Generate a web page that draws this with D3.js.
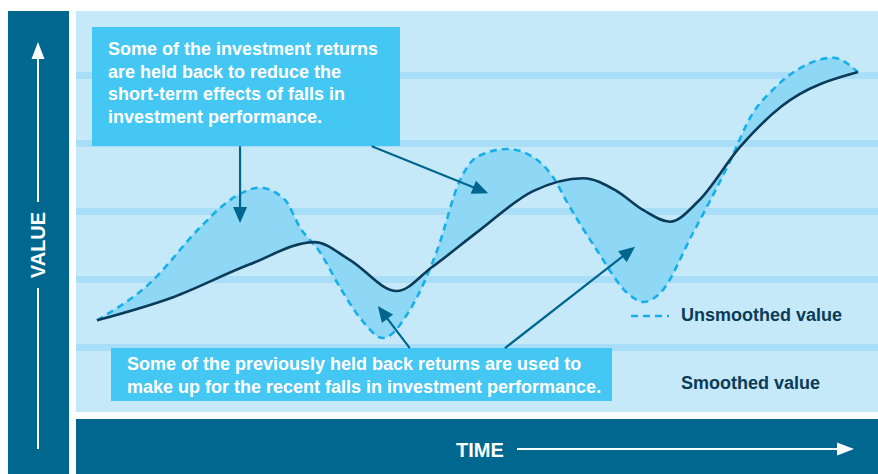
<!DOCTYPE html>
<html>
<head>
<meta charset="utf-8">
<script src="https://cdn.jsdelivr.net/npm/d3@7"></script>
<style>
  body { margin: 0; background: #ffffff; }
  svg { display: block; font-family: 'Liberation Sans', Arial, sans-serif; }
</style>
</head>
<body>
<script>
// data (time 0-100, value in band units)
var smoothTime  = [0, 10, 20, 28.6, 33.2, 39.4, 44, 50, 57.3, 63.9, 68.3, 71.8, 75.3, 79, 84.5, 90, 100];
var smoothValue = [1.40, 1.74, 2.22, 2.55, 2.29, 1.83, 2.18, 2.70, 3.30, 3.49, 3.30, 3.02, 2.85, 3.15, 3.95, 4.55, 5.05];
var rawTime  = [0, 7.0, 13.5, 17.5, 21.4, 24.7, 26.7, 29.3, 31.9, 34.6, 37.6, 41.1, 44.7, 47.7, 49.9, 53.9, 57.3, 59.9, 61.8, 65.7, 69.7, 71.8, 74.0, 78.3, 82.8, 86.2, 88.8, 92.4, 96.7, 100];
var rawValue = [1.40, 1.95, 2.76, 3.17, 3.35, 3.17, 2.76, 2.40, 1.89, 1.43, 1.14, 1.55, 2.43, 3.46, 3.80, 3.92, 3.80, 3.51, 3.13, 2.43, 1.80, 1.67, 1.80, 2.68, 3.65, 4.45, 4.79, 5.11, 5.26, 5.05];
var bandValues = [1, 2, 3, 4, 5];

var topNote = ['Some of the investment returns', 'are held back to reduce the', 'short-term effects of falls in', 'investment performance.'];
var bottomNote = ['Some of the previously held back returns are used to', 'make up for the recent falls in investment performance.'];
var legendLabels = ['Unsmoothed value', 'Smoothed value'];
// arrows: [fromTime, fromValue, toTime, toValue]
var arrows = [
  [18.8, 3.96, 18.8, 2.83],
  [36.1, 3.96, 51.4, 3.27],
  [41.1, 0.99, 36.9, 1.61],
  [53.6, 0.99, 70.7, 2.48]
];

var w = 878, h = 474;
var darkBlue = '#00678f', panel = '#c6e9f9', band = '#a8def7', boxBlue = '#45c7f3',
    fillBlue = '#8ed7f5', navy = '#0a3b58', dashBlue = '#17afea', arrowBlue = '#00668e';

var svg = d3.select('body').append('svg').attr('width', w).attr('height', h);

var x = d3.scaleLinear().domain([0, 100]).range([97, 858]);
var y = d3.scaleLinear().domain([0, 6]).range([415.5, 7.5]);

// frames
svg.append('rect').attr('x', 8).attr('y', 11).attr('width', 61).attr('height', h - 11).attr('fill', darkBlue);
svg.append('rect').attr('x', 76).attr('y', 11).attr('width', w - 76).attr('height', 401).attr('fill', panel);
svg.append('rect').attr('x', 76).attr('y', 419).attr('width', w - 76).attr('height', h - 419).attr('fill', darkBlue);

// bands
svg.selectAll('.band').data(bandValues).enter().append('rect')
  .attr('class', 'band')
  .attr('x', 76).attr('width', w - 76)
  .attr('y', function(d) { return y(d) - 3.5; })
  .attr('height', 7)
  .attr('fill', band);

// curves
var smooth = smoothTime.map(function(t, i) { return [t, smoothValue[i]]; });
var raw = rawTime.map(function(t, i) { return [t, rawValue[i]]; });
var line = d3.line()
  .x(function(d) { return x(d[0]); })
  .y(function(d) { return y(d[1]); })
  .curve(d3.curveMonotoneX);

var fillPath = line(raw) + 'L' + line(smooth.slice().reverse()).slice(1) + 'Z';
svg.append('path').attr('d', fillPath).attr('fill', fillBlue);
svg.append('path').attr('d', line(raw)).attr('fill', 'none')
  .attr('stroke', dashBlue).attr('stroke-width', 2.6).attr('stroke-dasharray', '7,5');
svg.append('path').attr('d', line(smooth)).attr('fill', 'none')
  .attr('stroke', navy).attr('stroke-width', 2.6);

// boxes
function noteBox(x0, y0, bw, bh, lines, tx, ty, lh, fs) {
  svg.append('rect').attr('x', x0).attr('y', y0).attr('width', bw).attr('height', bh).attr('fill', boxBlue);
  var t = svg.append('text').attr('fill', '#ffffff').attr('font-weight', 'bold').attr('font-size', fs);
  lines.forEach(function(s, i) {
    t.append('tspan').attr('x', tx).attr('y', ty + i * lh).text(s);
  });
}
noteBox(92, 27, 308, 119, topNote, 108, 55, 22.7, 18);
noteBox(111, 348, 501, 53, bottomNote, 127, 370, 23, 18);

// arrow helper
function arrow(x1, y1, x2, y2, color, len, half, sw) {
  var dx = x2 - x1, dy = y2 - y1, d = Math.sqrt(dx * dx + dy * dy);
  var ux = dx / d, uy = dy / d;
  var bx = x2 - ux * len, by = y2 - uy * len;
  svg.append('line').attr('x1', x1).attr('y1', y1).attr('x2', bx + ux * 2).attr('y2', by + uy * 2)
    .attr('stroke', color).attr('stroke-width', sw);
  svg.append('path')
    .attr('d', 'M' + x2 + ',' + y2 + 'L' + (bx - uy * half) + ',' + (by + ux * half) +
               'L' + (bx + uy * half) + ',' + (by - ux * half) + 'Z')
    .attr('fill', color);
}
arrows.forEach(function(a) {
  arrow(x(a[0]), y(a[1]), x(a[2]), y(a[3]), arrowBlue, 16, 7, 2.2);
});

// legend
svg.append('line').attr('x1', 631).attr('x2', 669).attr('y1', 316).attr('y2', 316)
  .attr('stroke', dashBlue).attr('stroke-width', 2.6).attr('stroke-dasharray', '7,5');
svg.selectAll('.leg').data(legendLabels).enter().append('text')
  .attr('class', 'leg')
  .attr('x', 681).attr('y', function(d, i) { return 321 + i * 68; })
  .attr('fill', navy).attr('font-weight', 'bold').attr('font-size', 18)
  .text(function(d) { return d; });

// value axis label
arrow(38, 202, 38, 42, '#ffffff', 17, 6.5, 2);
svg.append('line').attr('x1', 38).attr('x2', 38).attr('y1', 288).attr('y2', 449)
  .attr('stroke', '#ffffff').attr('stroke-width', 2);
svg.append('text').attr('transform', 'translate(45,245) rotate(-90)')
  .attr('text-anchor', 'middle').attr('fill', '#ffffff').attr('font-weight', 'bold')
  .attr('font-size', 20).text('VALUE');

// time axis label
svg.append('text').attr('x', 456).attr('y', 457)
  .attr('fill', '#ffffff').attr('font-weight', 'bold').attr('font-size', 20).text('TIME');
arrow(517, 449, 854, 449, '#ffffff', 17, 6.5, 2);
</script>
</body>
</html>
